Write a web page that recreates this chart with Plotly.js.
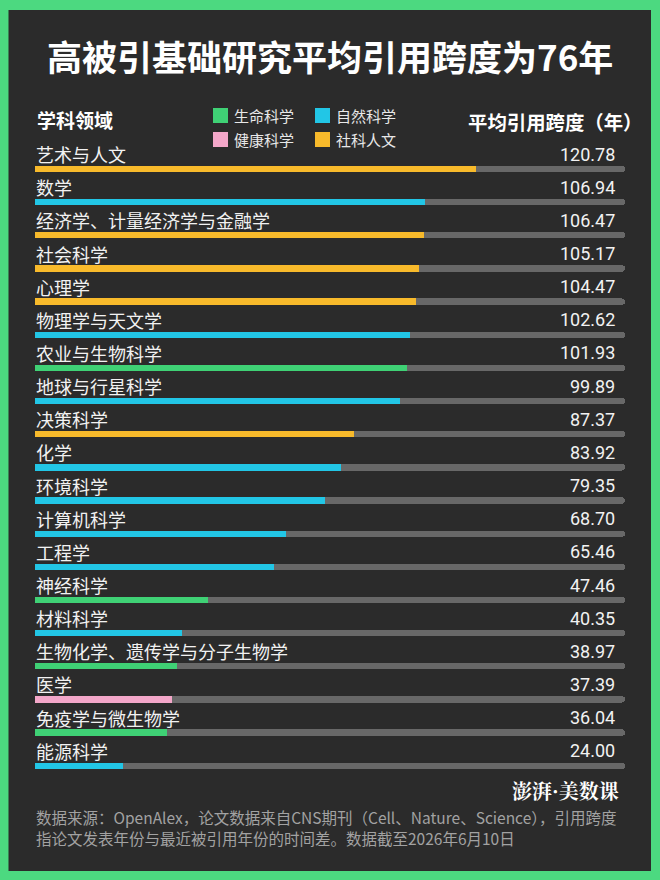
<!DOCTYPE html>
<html>
<head>
<meta charset="utf-8">
<script src="https://cdn.plot.ly/plotly-3.0.1.min.js"></script>
<style>
html,body{margin:0;padding:0;background:#4cd980;}
#chart{width:660px;height:880px;}
</style>
</head>
<body>
<div id="chart"></div>
<script>
// ---- data ----
const categories = ["艺术与人文","数学","经济学、计量经济学与金融学","社会科学","心理学","物理学与天文学","农业与生物科学","地球与行星科学","决策科学","化学","环境科学","计算机科学","工程学","神经科学","材料科学","生物化学、遗传学与分子生物学","医学","免疫学与微生物学","能源科学"];
const values = [120.78,106.94,106.47,105.17,104.47,102.62,101.93,99.89,87.37,83.92,79.35,68.70,65.46,47.46,40.35,38.97,37.39,36.04,24.00];
const groups = ["社科人文","自然科学","社科人文","社科人文","社科人文","自然科学","生命科学","自然科学","社科人文","自然科学","自然科学","自然科学","自然科学","生命科学","自然科学","生命科学","健康科学","生命科学","自然科学"];
const groupNames = ["生命科学","自然科学","健康科学","社科人文"];
const groupColors = {"生命科学":"#3fd175","自然科学":"#22c6e6","健康科学":"#f3a7c9","社科人文":"#f8ba2b"};
const trackMax = 161.6;

// ---- layout helpers (pixel -> paper) ----
const W = 660, H = 880;
const px = x => x / W;
const py = y => 1 - y / H;

const idx = categories.map((_, i) => i);
const traces = [];
traces.push({
  type: 'bar', orientation: 'h',
  y: idx, x: idx.map(() => trackMax), width: 0.19,
  marker: {color: '#686868', cornerradius: '50%'},
  showlegend: false, hoverinfo: 'skip'
});
groupNames.forEach((g) => {
  const ii = idx.filter(i => groups[i] === g);
  traces.push({
    type: 'bar', orientation: 'h', name: g,
    y: ii, x: ii.map(i => values[i]), width: 0.19,
    marker: {color: groupColors[g], cornerradius: '50%'},
    showlegend: false, hoverinfo: 'skip'
  });
});

const annotations = [];
const shapes = [];
const labelFont = {family: 'Noto Sans CJK SC, sans-serif', size: 18, color: '#f2f2f2'};
const numFont = {family: 'Roboto, Noto Sans CJK SC, sans-serif', size: 18, color: '#f2f2f2'};
categories.forEach((c, i) => {
  annotations.push({xref: 'x', yref: 'y', x: 0, y: i - 0.45, text: c, showarrow: false,
    xanchor: 'left', yanchor: 'middle', xshift: -1, font: labelFont});
  annotations.push({xref: 'x', yref: 'y', x: 159.4, y: i - 0.45, text: values[i].toFixed(2), showarrow: false,
    xanchor: 'right', yanchor: 'middle', font: numFont});
});
// title & headers
annotations.push({xref:'paper',yref:'paper',x:px(330),y:py(55),text:'<b>高被引基础研究平均引用跨度为76年</b>',showarrow:false,
  xanchor:'center',yanchor:'middle',font:{family:'Noto Sans CJK SC, sans-serif',size:35,color:'#ffffff'}});
annotations.push({xref:'paper',yref:'paper',x:px(35),y:py(120),text:'<b>学科领域</b>',showarrow:false,
  xanchor:'left',yanchor:'middle',font:{family:'Noto Sans CJK SC, sans-serif',size:19,color:'#ffffff'}});
annotations.push({xref:'paper',yref:'paper',x:px(645),y:py(121.5),text:'<b>平均引用跨度（年）</b>',showarrow:false,
  xanchor:'right',yanchor:'middle',font:{family:'Noto Sans CJK SC, sans-serif',size:19.4,color:'#ffffff'}});
// legend (2x2 grid)
const legPos = [[213,115.5],[315,115.5],[213,139.5],[315,139.5]];
const legFont = {family:'Noto Sans CJK SC, sans-serif',size:15,color:'#e8e8e8'};
groupNames.forEach((g, k) => {
  const [lx, ly] = legPos[k];
  shapes.push({type:'rect', xref:'paper', yref:'paper', x0:px(lx), x1:px(lx+15), y0:py(ly+7.5), y1:py(ly-7.5),
    fillcolor:groupColors[g], line:{width:0}});
  annotations.push({xref:'paper',yref:'paper',x:px(lx+19),y:py(ly),text:g,showarrow:false,
    xanchor:'left',yanchor:'middle',font:legFont});
});
// logo
annotations.push({xref:'paper',yref:'paper',x:px(621),y:py(790),text:'<b>澎湃·美数课</b>',showarrow:false,
  xanchor:'right',yanchor:'middle',font:{family:'Noto Serif CJK SC, Noto Sans CJK SC, serif',size:20,color:'#ffffff'}});
// footer
const footFont = {family:'Noto Sans CJK SC, sans-serif',size:15.5,color:'#a2a2a2'};
annotations.push({xref:'paper',yref:'paper',x:px(34),y:py(817),text:'数据来源：OpenAlex，论文数据来自CNS期刊（Cell、Nature、Science），引用跨度',showarrow:false,
  xanchor:'left',yanchor:'middle',font:footFont});
annotations.push({xref:'paper',yref:'paper',x:px(34),y:py(838),text:'指论文发表年份与最近被引用年份的时间差。数据截至2026年6月10日',showarrow:false,
  xanchor:'left',yanchor:'middle',font:footFont});

// y axis: row i at pixel 169 + i*33.15, domain pixels 140..780
const rowH = 33.15;
const yTopPx = 140, yBotPx = 780;
const yRange = [(yBotPx - 169) / rowH, (yTopPx - 169) / rowH];

shapes.unshift({type:'rect', xref:'paper', yref:'paper', x0:px(8.5), x1:px(651), y0:py(871), y1:py(10),
  fillcolor:'#2b2b2b', line:{width:0}, layer:'below'});

const layout = {
  width: W, height: H,
  margin: {l:0, r:0, t:0, b:0, pad:0},
  paper_bgcolor: '#4cd980',
  plot_bgcolor: 'rgba(0,0,0,0)',
  barmode: 'overlay',
  bargap: 0,
  xaxis: {domain: [px(35), px(625)], range: [0, trackMax], visible: false, fixedrange: true},
  yaxis: {domain: [py(yBotPx), py(yTopPx)], range: yRange, visible: false, fixedrange: true},
  shapes: shapes,
  annotations: annotations,
  hovermode: false,
  showlegend: false
};

Plotly.newPlot('chart', traces, layout, {staticPlot: true, displayModeBar: false});
</script>
</body>
</html>
